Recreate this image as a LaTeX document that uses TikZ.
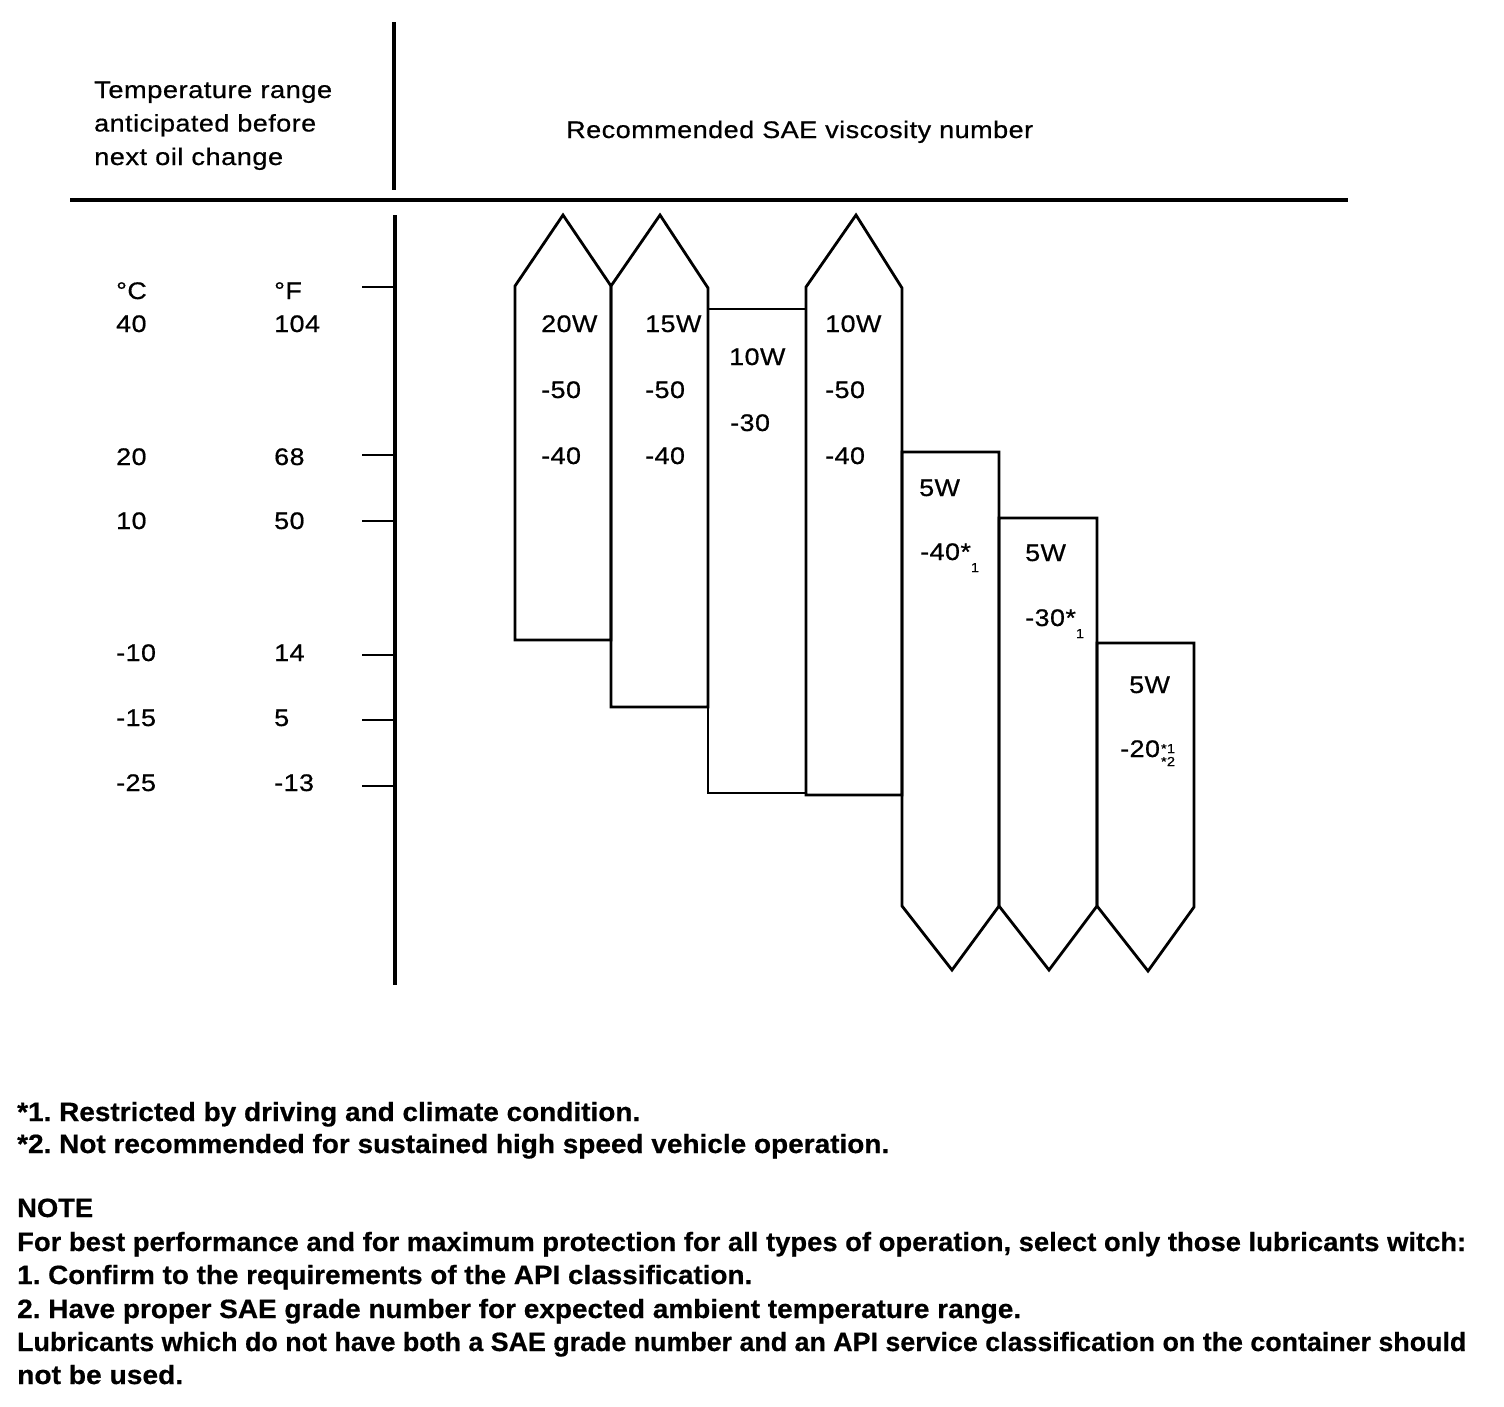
\documentclass[tikz,border=0pt]{standalone}
\usepackage{graphicx}
\usepackage{fontspec}
\setmainfont{Liberation Sans}
\newfontfamily\regfont{Liberation Sans}[FakeStretch=1.12,LetterSpace=2,FakeBold=0.6]
\newfontfamily\boldfont{Liberation Sans Bold}[FakeBold=0.5]
\newcommand{\fitw}[2]{\resizebox{#1pt}{\height}{#2}}
\newcommand{\smallfig}{\fontsize{13}{13}\selectfont}
\frenchspacing
\begin{document}
\frenchspacing
\begin{tikzpicture}[x=1pt,y=-1pt,
  barline/.style={draw=black, line width=2.8pt, line join=miter},
  axisline/.style={draw=black, line width=3.2pt},
  tickline/.style={draw=black, line width=2.8pt},
  lbl/.style={anchor=base west, inner sep=0pt, font=\fontsize{24}{24}\regfont},
  hdr/.style={anchor=base west, inner sep=0pt, font=\fontsize{24}{24}\regfont},
  nt/.style={anchor=base west, inner sep=0pt, font=\fontsize{26.5}{26.5}\boldfont\frenchspacing}]
\fill[white] (0,0) rectangle (1504,1406);
\useasboundingbox (0,0) rectangle (1504,1406);

% header
\node[hdr] (hT1) at (94,98) {\fitw{238}{Temperature range}};
\node[hdr] (hT2) at (94,131.5) {\fitw{222}{anticipated before}};
\node[hdr] (hT3) at (94,165) {\fitw{189}{next oil change}};
\node[hdr] (hR) at (566,138) {\fitw{467}{Recommended SAE viscosity number}};

% axes
\draw[axisline] (394,22) -- (394,190);
\draw[axisline] (395,215) -- (395,985);
\draw[axisline] (70,200) -- (1348,200);
\foreach \ty in {287,455,521,655,720,786}{
  \draw[tickline] (362,\ty) -- (395,\ty);
}

% temperature labels
\node[lbl] (uC) at (116,299) {°C};
\node[lbl] (uF) at (274,299) {°F};
\node[lbl] (c40) at (116,332) {40};
\node[lbl] (f104) at (274,332) {104};
\node[lbl] (c20) at (116,465) {20};
\node[lbl] (f68) at (274,465) {68};
\node[lbl] (c10) at (116,529) {10};
\node[lbl] (f50) at (274,529) {50};
\node[lbl] (cm10) at (116,661) {-10};
\node[lbl] (f14) at (274,661) {14};
\node[lbl] (cm15) at (116,726) {-15};
\node[lbl] (f5) at (274,726) {5};
\node[lbl] (cm25) at (116,791) {-25};
\node[lbl] (fm13) at (274,791) {-13};

% bars
\draw[barline] (515,640) -- (515,286) -- (563,215) -- (611,286) -- (611,640) -- cycle;
\draw[barline] (611,707) -- (611,286) -- (660,215) -- (708,288) -- (708,707) -- cycle;
\draw[barline] (708,793) -- (708,309) -- (806,309) -- (806,793) -- cycle;
\draw[barline] (806,795) -- (806,287) -- (856,215) -- (902,288) -- (902,795) -- cycle;
\draw[barline] (902,452) -- (999,452) -- (999,906) -- (952,970) -- (902,906) -- cycle;
\draw[barline] (999,518) -- (1097,518) -- (1097,906) -- (1049,970) -- (999,906) -- cycle;
\draw[barline] (1097,643) -- (1194,643) -- (1194,907) -- (1148,971) -- (1097,906) -- cycle;

% bar labels
\node[lbl] (a1) at (541,332) {20W};
\node[lbl] (a2) at (541,398) {-50};
\node[lbl] (a3) at (541,464) {-40};
\node[lbl] (b1) at (645,332) {15W};
\node[lbl] (b2) at (645,398) {-50};
\node[lbl] (b3) at (645,464) {-40};
\node[lbl] (c1) at (729,365) {10W};
\node[lbl] (c2) at (730,431) {-30};
\node[lbl] (d1) at (825,332) {10W};
\node[lbl] (d2) at (825,398) {-50};
\node[lbl] (d3) at (825,464) {-40};
\node[lbl] (e1) at (919,496) {5W};
\node[lbl] (e2) at (920,560) {-40*\raisebox{-12pt}{\smallfig 1}};
\node[lbl] (g1) at (1025,561) {5W};
\node[lbl] (g2) at (1025,626) {-30*\raisebox{-12pt}{\smallfig 1}};
\node[lbl] (h1) at (1129,693) {5W};
\node[lbl] (h2) at (1120,757) {-20\kern1pt\rlap{\raisebox{4pt}{\smallfig *1}}\raisebox{-9pt}{\smallfig *2}};

% notes
\node[nt] (n1) at (17,1121) {\fitw{623}{*1. Restricted by driving and climate condition.}};
\node[nt] (n2) at (17,1153) {\fitw{872}{*2. Not recommended for sustained high speed vehicle operation.}};
\node[nt] (n3) at (17,1217) {\fitw{76}{NOTE}};
\node[nt] (n4) at (17,1251) {\fitw{1449}{For best performance and for maximum protection for all types of operation, select only those lubricants witch:}};
\node[nt] (n5) at (17,1284) {\fitw{735}{1. Confirm to the requirements of the API classification.}};
\node[nt] (n6) at (17,1318) {\fitw{1004}{2. Have proper SAE grade number for expected ambient temperature range.}};
\node[nt] (n7) at (17,1351) {\fitw{1449}{Lubricants which do not have both a SAE grade number and an API service classification on the container should}};
\node[nt] (n8) at (17,1384) {\fitw{166}{not be used.}};
\end{tikzpicture}
\end{document}
